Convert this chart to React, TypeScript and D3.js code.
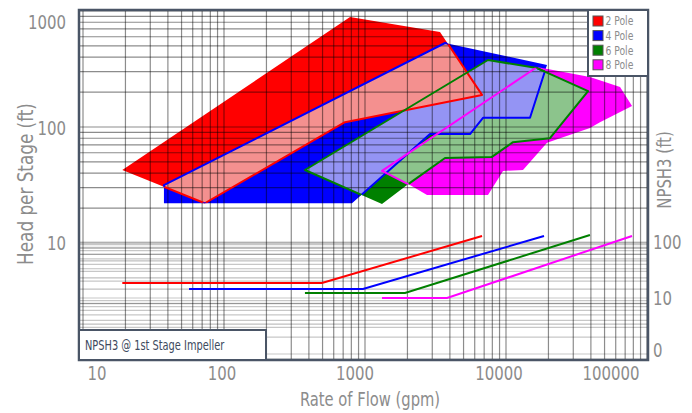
import React from "react";
import * as d3 from "d3";

type Pt = [number, number];

// ---------- data ----------
const poles = ["2 Pole", "4 Pole", "6 Pole", "8 Pole"];
const poleColors = ["#ff0000", "#0000ff", "#008000", "#ff00ff"];
const overlapColors = ["#f4908f", "#9494f4", "#8cc48c"];

const flowTicks = [10, 100, 1000, 10000, 100000];
const flowTickLabels = ["10", "100", "1000", "10000", "100000"];
const headTicks = [1000, 100, 10];
const headTickLabels = ["1000", "100", "10"];
const npshTicks = [100, 10, 1];
const npshTickLabels = ["100", "10", "0"];

// coverage regions (flow gpm, head ft)
const pole2Region: Pt[] = [[19, 42.6], [783, 888], [3404, 659], [6760, 189], [721, 110], [73, 22]];
const pole4Region: Pt[] = [[37.5, 31.6], [3694, 530], [19540, 342], [18900, 304], [14800, 120], [6870, 120], [5556, 87], [2891, 87], [809, 22], [37.5, 22]];
const pole6Region: Pt[] = [[375, 42.6], [7452, 378], [16600, 322], [38200, 204], [20500, 80], [11210, 74], [7900, 55], [3694, 54], [2085, 33], [1320, 21.7]];
const pole8Region: Pt[] = [[1320, 41.8], [16600, 329], [39400, 270], [64400, 221], [78300, 152], [46400, 110], [39400, 98], [19540, 73], [13200, 42.6], [9525, 41.8], [7452, 25.9], [2753, 25.9], [2085, 31.6]];

// NPSH3 curves (flow gpm, npsh ft)
const npsh2: Pt[] = [[19, 18.5], [495, 18.5], [6760, 128]];
const npsh4: Pt[] = [[56.5, 14.5], [968, 14.5], [18600, 128]];
const npsh6: Pt[] = [[375, 12.3], [1923, 12.3], [39400, 133]];
const npsh8: Pt[] = [[1320, 10], [3820, 10], [78300, 128]];

// ---------- layout ----------
const W = 692, H = 413;
const P = { left: 79, right: 648, top: 10, bottom: 360 };
const FONT = "'Liberation Sans Narrow', 'DejaVu Sans Condensed', 'Arial Narrow', sans-serif";
const GREY = "#8c8c8c";
const FRAME = "#4a5566";
const xLabelShift = [14, -2, -10, -7, -36];
const headLabelShift = [11, 1, 0];
const npshLabelShift = [0, 0, -4];

type TProps = {
  x: number; y: number; rot?: number; sx: number; size: number;
  anchor?: "start" | "middle" | "end"; fill: string; dy?: string; children: React.ReactNode;
};
const T = ({ x, y, rot = 0, sx, size, anchor = "start", fill, dy, children }: TProps) => (
  <text
    transform={`translate(${x},${y}) rotate(${rot}) scale(${sx},1)`}
    fontSize={size}
    textAnchor={anchor}
    fill={fill}
    dy={dy}
  >
    {children}
  </text>
);

export default function App() {
  const x = d3.scaleLog().domain([10, 100000]).range([83, 647]);
  const yH = d3.scaleLog().domain([1, 1000]).range([359, 11]);
  const yN = d3.scaleLog().domain([1, 100]).range([354, 242]);

  const area = (pts: Pt[]) => (d3.line<Pt>().x((d) => x(d[0])).y((d) => yH(d[1]))(pts) || "") + "Z";
  const npshLine = d3.line<Pt>().x((d) => x(d[0])).y((d) => yN(d[1]));

  const regions = [pole2Region, pole4Region, pole6Region, pole8Region];

  const vGrid: number[] = [];
  for (let k = 1; k <= 4; k++) for (let m = 1; m <= 9; m++) vGrid.push(m * Math.pow(10, k));
  vGrid.push(100000);
  const hGrid: number[] = [];
  for (let k = 0; k <= 2; k++) for (let m = 1; m <= 9; m++) hGrid.push(m * Math.pow(10, k));
  hGrid.push(1000);
  const nGrid: number[] = [];
  for (let k = 0; k <= 1; k++) for (let m = 1; m <= 9; m++) nGrid.push(m * Math.pow(10, k));
  nGrid.push(100);

  const overlaps: [number, number, string][] = [
    [2, 3, overlapColors[2]],
    [1, 2, overlapColors[1]],
    [0, 1, overlapColors[0]],
  ];
  const outlines: [number, number][] = [
    [0, 1], [1, 0], [1, 2], [2, 1], [2, 3], [3, 2],
  ];
  const npshCurves = [npsh2, npsh4, npsh6, npsh8];

  return (
    <svg width={W} height={H} style={{ position: "absolute", left: 0, top: 0, background: "#fff" }} fontFamily={FONT}>
      <defs>
        <clipPath id="plotClip">
          <rect x={P.left} y={P.top} width={P.right - P.left} height={P.bottom - P.top} />
        </clipPath>
        {regions.map((r, i) => (
          <clipPath id={`reg${i}`} key={i}>
            <path d={area(r)} />
          </clipPath>
        ))}
      </defs>
      <rect x={P.left} y={P.top} width={P.right - P.left} height={P.bottom - P.top} fill="#fff" />
      <g clipPath="url(#plotClip)">
        {regions.map((r, i) => (
          <path key={i} d={area(r)} fill={poleColors[i]} />
        ))}
        {overlaps.map(([ri, ci, col], i) => (
          <path key={i} d={area(regions[ri])} fill={col} clipPath={`url(#reg${ci})`} />
        ))}
        {nGrid.map((v, i) => (
          <line key={"n" + i} x1={P.left} x2={P.right} y1={yN(v)} y2={yN(v)} stroke="#000" strokeOpacity={0.22} strokeWidth={1.2} />
        ))}
        {hGrid.map((v, i) => (
          <line key={"h" + i} x1={P.left} x2={P.right} y1={yH(v)} y2={yH(v)} stroke="#000" strokeOpacity={v >= 10 ? 0.45 : 0.25} strokeWidth={1.2} />
        ))}
        {vGrid.map((v, i) => (
          <line key={"v" + i} x1={x(v)} x2={x(v)} y1={P.top} y2={P.bottom} stroke="#000" strokeOpacity={0.45} strokeWidth={1.2} />
        ))}
        {outlines.map(([ri, ci], i) => (
          <path key={"o" + i} d={area(regions[ri])} fill="none" stroke={poleColors[ri]} strokeWidth={2} strokeLinejoin="round" clipPath={`url(#reg${ci})`} />
        ))}
        {npshCurves.map((c, i) => (
          <path key={"c" + i} d={npshLine(c) || ""} fill="none" stroke={poleColors[i]} strokeWidth={2} />
        ))}
      </g>
      <rect x={P.left} y={P.top} width={P.right - P.left} height={P.bottom - P.top} fill="none" stroke={FRAME} strokeWidth={2.5} />

      {/* NPSH note box */}
      <rect x={P.left} y={330} width={187} height={30} fill="#fff" stroke={FRAME} strokeWidth={2} />
      <T x={85} y={350} sx={0.78} size={14} fill="#3d4a5e">NPSH3 @ 1st Stage Impeller</T>

      {/* legend */}
      <rect x={588} y={P.top} width={60} height={66} fill="#fff" stroke={FRAME} strokeWidth={2} />
      {poles.map((p, i) => (
        <g key={p}>
          <rect x={593} y={16 + i * 14.6} width={10} height={10} fill={poleColors[i]} stroke="#555" strokeWidth={1} />
          <T x={605.5} y={21 + i * 14.6} dy="0.35em" sx={0.82} size={12.5} fill={GREY}>{p}</T>
        </g>
      ))}

      {/* ticks */}
      {flowTicks.map((v, i) => (
        <T key={v} x={x(v) + xLabelShift[i]} y={380} anchor="middle" sx={0.83} size={20} fill={GREY}>{flowTickLabels[i]}</T>
      ))}
      {headTicks.map((v, i) => (
        <T key={v} x={66} y={yH(v) + headLabelShift[i]} dy="0.35em" anchor="end" sx={0.83} size={20} fill={GREY}>{headTickLabels[i]}</T>
      ))}
      {npshTicks.map((v, i) => (
        <T key={v} x={653} y={yN(v) + npshLabelShift[i]} dy="0.35em" sx={0.83} size={20} fill={GREY}>{npshTickLabels[i]}</T>
      ))}

      {/* axis titles */}
      <T x={370} y={406} anchor="middle" sx={0.82} size={20} fill={GREY}>Rate of Flow (gpm)</T>
      <T x={25} y={184} rot={-90} dy="0.35em" anchor="middle" sx={0.85} size={22} fill={GREY}>Head per Stage (ft)</T>
      <T x={664} y={170} rot={-90} dy="0.35em" anchor="middle" sx={0.83} size={20} fill={GREY}>NPSH3 (ft)</T>
    </svg>
  );
}
